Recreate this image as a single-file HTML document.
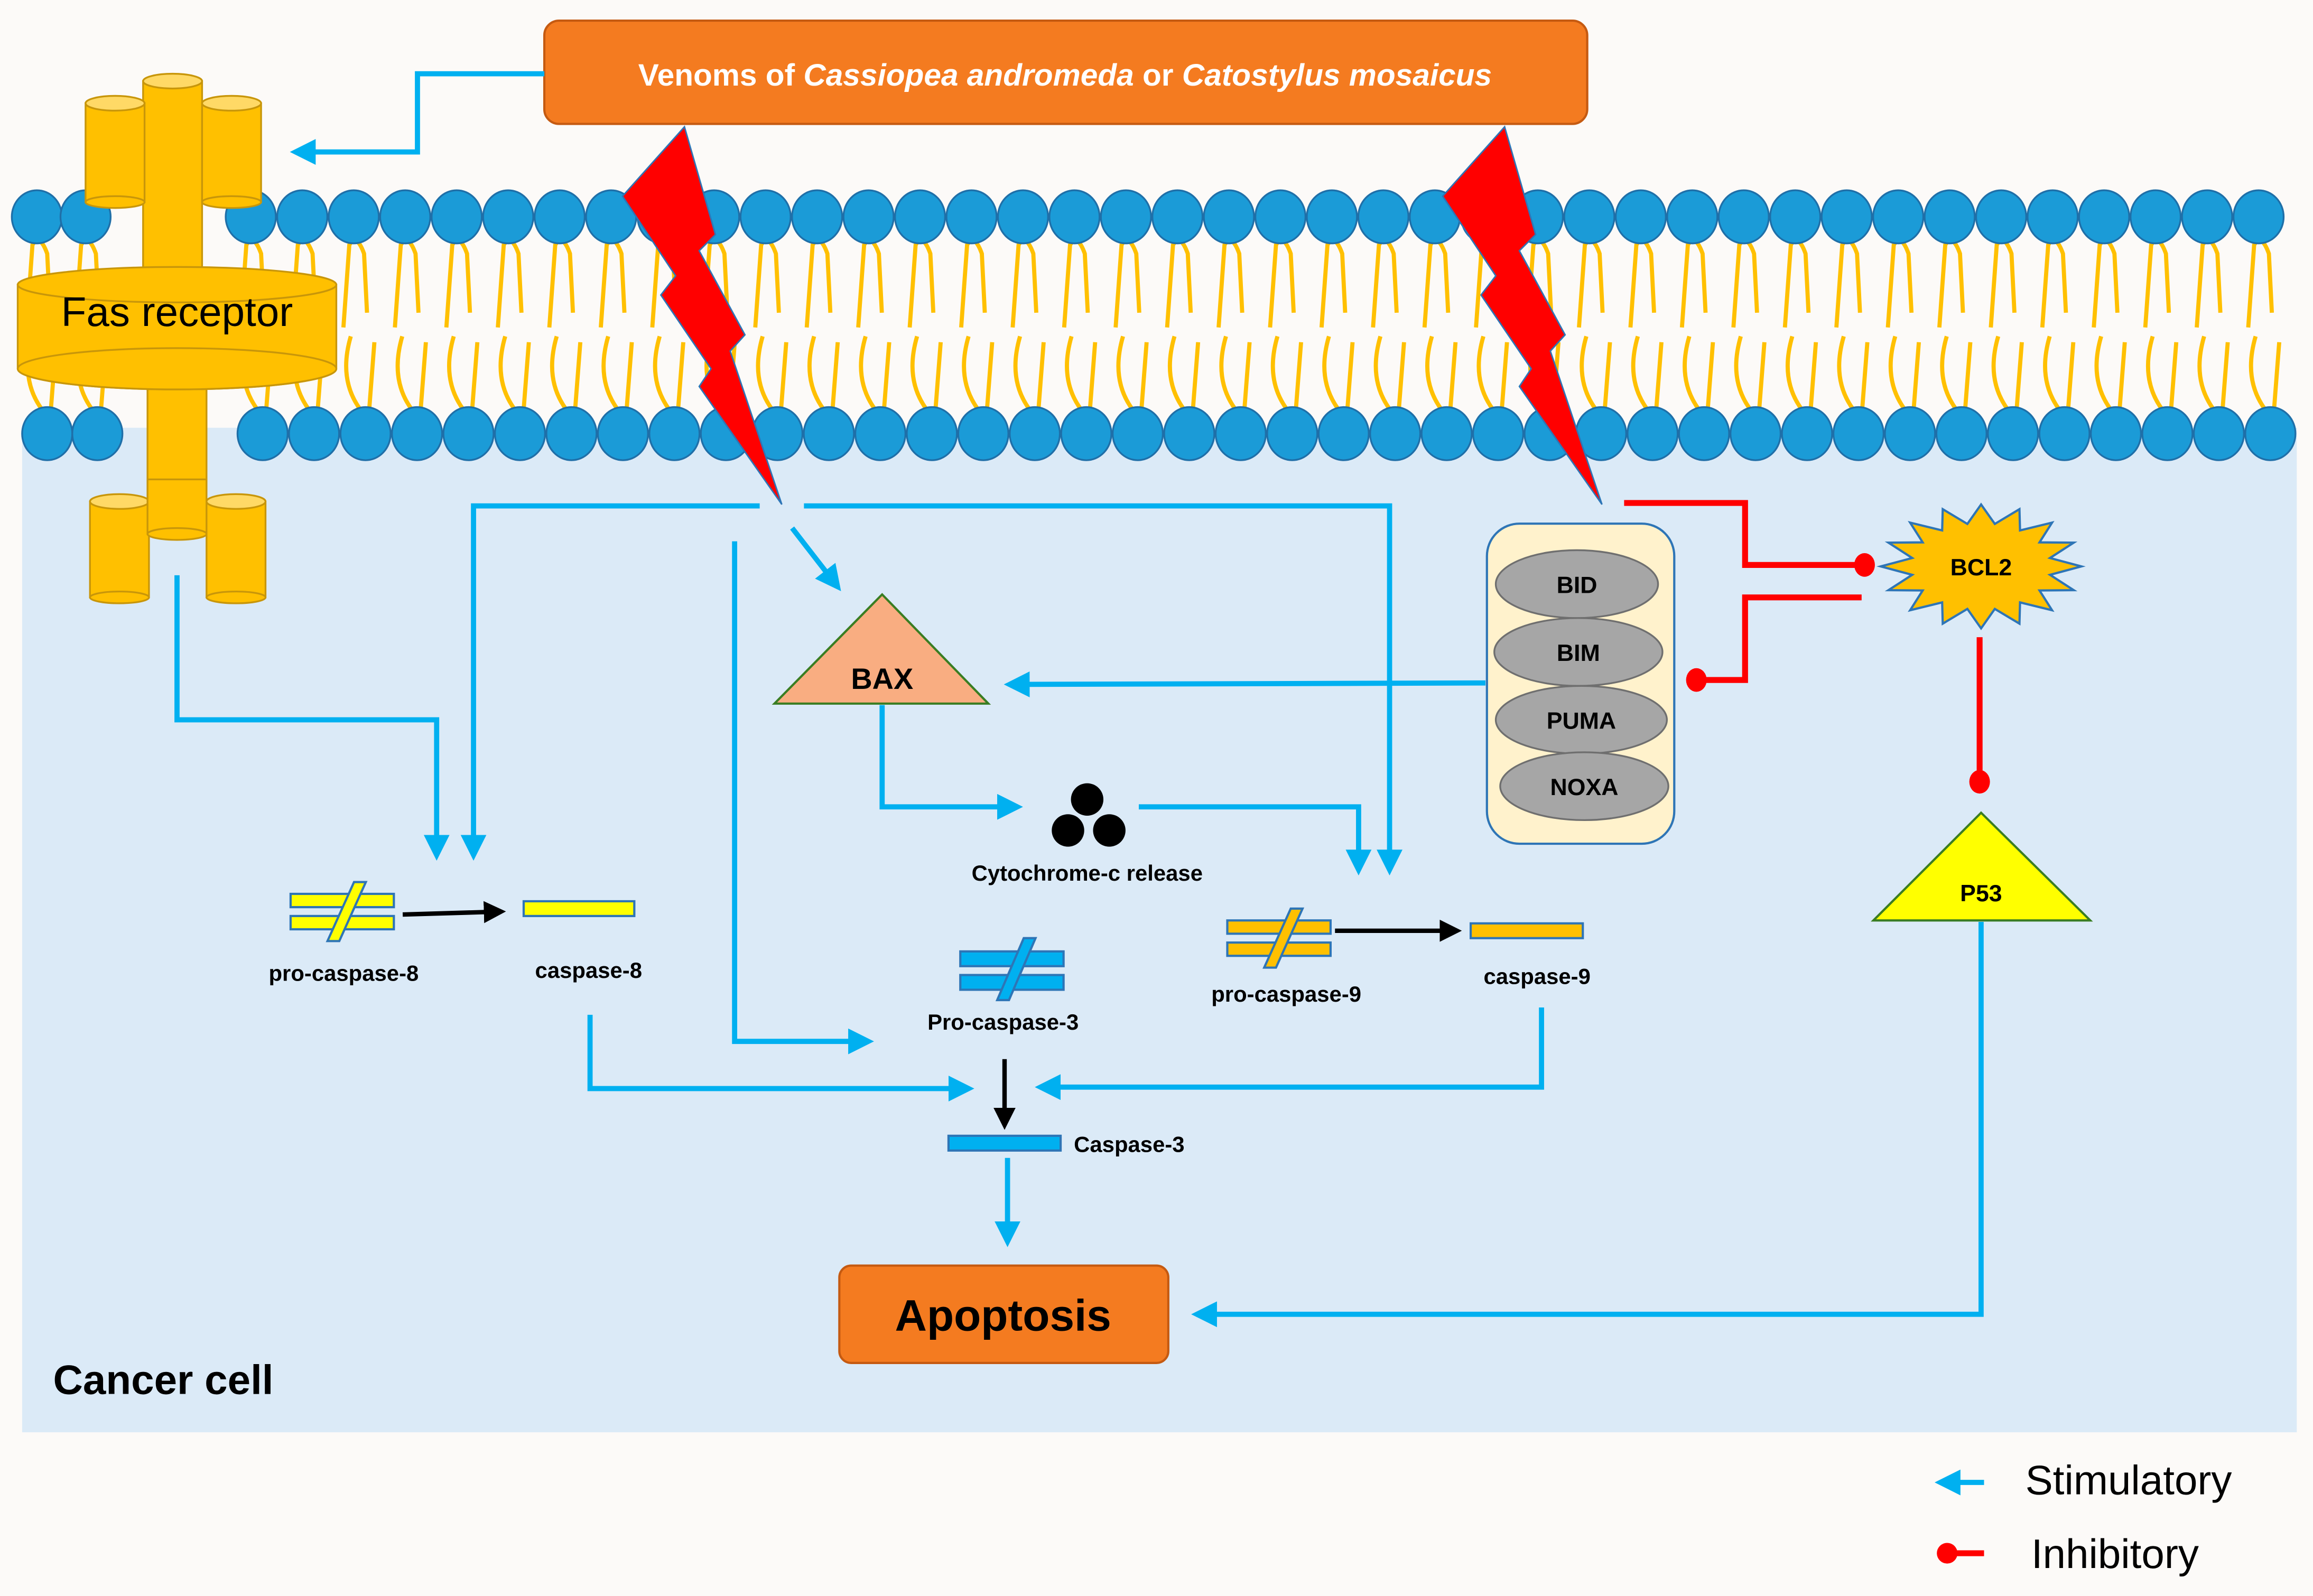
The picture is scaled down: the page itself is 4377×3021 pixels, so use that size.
<!DOCTYPE html>
<html><head><meta charset="utf-8"><style>html,body{margin:0;padding:0;background:#fcfaf8}svg{display:block}text{font-family:"Liberation Sans",sans-serif}</style></head>
<body>
<svg id="s" xmlns="http://www.w3.org/2000/svg" width="4377" height="3021" viewBox="0 0 1568 1082" preserveAspectRatio="none">
<defs>
<marker id="ab" markerWidth="5" markerHeight="5" refX="4" refY="2.5" orient="auto" markerUnits="strokeWidth"><path d="M0,0 L5,2.5 L0,5 z" fill="#00b0f0"/></marker>
<marker id="ak" markerWidth="5" markerHeight="5" refX="4" refY="2.5" orient="auto" markerUnits="strokeWidth"><path d="M0,0 L5,2.5 L0,5 z" fill="#000"/></marker>
</defs>
<rect x="0" y="0" width="1568" height="1082" fill="#fcfaf8"/>
<rect x="15" y="290" width="1542" height="681" fill="#dbeaf7"/>
<g id="mem"></g>
<g fill="#ffc000" stroke="#c8960a" stroke-width="1.2">
<rect x="100" y="250" width="40" height="112"/>
<rect x="61" y="340" width="40" height="65"/><ellipse cx="81" cy="340" rx="20" ry="5" fill="#ffd966"/><ellipse cx="81" cy="405" rx="20" ry="4"/>
<rect x="140" y="340" width="40" height="65"/><ellipse cx="160" cy="340" rx="20" ry="5" fill="#ffd966"/><ellipse cx="160" cy="405" rx="20" ry="4"/>
<rect x="100" y="325" width="40" height="37"/><ellipse cx="120" cy="362" rx="20" ry="4"/>
<rect x="97" y="55" width="40" height="130"/><ellipse cx="117" cy="55" rx="20" ry="5" fill="#ffd966"/>
<rect x="58" y="70" width="40" height="67"/><ellipse cx="78" cy="70" rx="20" ry="5" fill="#ffd966"/><ellipse cx="78" cy="137" rx="20" ry="4"/>
<rect x="137" y="70" width="40" height="67"/><ellipse cx="157" cy="70" rx="20" ry="5" fill="#ffd966"/><ellipse cx="157" cy="137" rx="20" ry="4"/>
<path d="M12,193 L12,250 A108,14 0 0 0 228,250 L228,193 z"/>
<ellipse cx="120" cy="193" rx="108" ry="12"/>
<ellipse cx="120" cy="250" rx="108" ry="14"/>
</g>
<text x="120" y="221" font-size="28" text-anchor="middle" fill="#000">Fas receptor</text>
<rect x="369" y="14" width="707" height="70" rx="10" fill="#f47b20" stroke="#c55a11" stroke-width="1.5"/>
<text x="722" y="58" font-size="21" font-weight="bold" fill="#fff" text-anchor="middle">Venoms of <tspan font-style="italic">Cassiopea andromeda</tspan> or <tspan font-style="italic">Catostylus mosaicus</tspan></text>
<g fill="#ff0000" stroke="#2e75b6" stroke-width="1">
<polygon points="464,86 422,133 458,187 448,200 482,250 474,262 530,342 495,238 505,227 474,170 485,159"/>
<polygon points="1020,86 978,133 1014,187 1004,200 1038,250 1030,262 1086,342 1051,238 1061,227 1030,170 1041,159"/>
</g>
<g fill="none" stroke="#00b0f0" stroke-width="3.5" marker-end="url(#ab)">
<polyline points="369,50 283,50 283,103 200,103"/>
<polyline points="120,390 120,488 296,488 296,580"/>
<polyline points="515,343 321,343 321,580"/>
<polyline points="545,343 942,343 942,590"/>
<polyline points="537,358 568,398"/>
<polyline points="498,367 498,706 589,706"/>
<polyline points="1007,463 684,464"/>
<polyline points="598,478 598,547 690,547"/>
<polyline points="772,547 921,547 921,590"/>
<polyline points="400,688 400,738 657,738"/>
<polyline points="1045,683 1045,737 705,737"/>
<polyline points="683,785 683,842"/>
<polyline points="1343,625 1343,891 811,891"/>
<polyline points="1345,1005 1315,1005"/>
</g>
<g fill="none" stroke="#000" stroke-width="3" marker-end="url(#ak)">
<polyline points="273,620 340,618"/>
<polyline points="905,631 988,631"/>
<polyline points="681,718 681,763"/>
</g>
<g fill="none" stroke="#ff0000" stroke-width="4">
<polyline points="1101,341 1183,341 1183,383 1262,383"/>
<polyline points="1262,405 1183,405 1183,461 1152,461"/>
<polyline points="1342,432 1342,528"/>
<polyline points="1345,1053 1322,1053"/>
</g>
<g fill="#ff0000"><ellipse cx="1264" cy="383" rx="7" ry="8"/><ellipse cx="1150" cy="461" rx="7" ry="8"/><ellipse cx="1342" cy="530" rx="7" ry="8"/><circle cx="1320" cy="1053" r="7"/></g>
<polygon points="525,477 598,403 670,477" fill="#f9ad81" stroke="#3a7d22" stroke-width="1.5"/>
<text x="598" y="467" font-size="20" font-weight="bold" text-anchor="middle">BAX</text>
<g fill="#000"><circle cx="737" cy="542" r="11"/><circle cx="724" cy="563" r="11"/><circle cx="752" cy="563" r="11"/></g>
<text x="737" y="597" font-size="15" font-weight="bold" text-anchor="middle">Cytochrome-c release</text>
<rect x="1008" y="355" width="127" height="217" rx="22" fill="#fff2cc" stroke="#2e75b6" stroke-width="1.5"/>
<g fill="#a6a6a6" stroke="#6f6f6f" stroke-width="1.2">
<ellipse cx="1069" cy="396" rx="55" ry="23"/><ellipse cx="1070" cy="442" rx="57" ry="23"/><ellipse cx="1072" cy="488" rx="58" ry="23"/><ellipse cx="1074" cy="533" rx="57" ry="23"/>
</g>
<g font-size="16" font-weight="bold" text-anchor="middle">
<text x="1069" y="402">BID</text><text x="1070" y="448">BIM</text><text x="1072" y="494">PUMA</text><text x="1074" y="539">NOXA</text>
</g>
<polygon id="star" fill="#ffc000" stroke="#2e75b6" stroke-width="1.5"/>
<text x="1343" y="390" font-size="16" font-weight="bold" text-anchor="middle">BCL2</text>
<polygon points="1270,624 1343,551 1417,624" fill="#ffff00" stroke="#3a7d22" stroke-width="1.5"/>
<text x="1343" y="611" font-size="16" font-weight="bold" text-anchor="middle">P53</text>
<g stroke="#2e75b6" stroke-width="1.5">
<rect x="197" y="606" width="70" height="9" fill="#ffff00"/><rect x="197" y="621" width="70" height="9" fill="#ffff00"/>
<polygon points="240,598 248,598 230,638 222,638" fill="#ffff00"/>
<rect x="355" y="611" width="75" height="10" fill="#ffff00"/>
<rect x="651" y="645" width="70" height="10" fill="#00b0f0"/><rect x="651" y="661" width="70" height="10" fill="#00b0f0"/>
<polygon points="694,636 702,636 684,678 676,678" fill="#00b0f0"/>
<rect x="643" y="770" width="76" height="10" fill="#00b0f0"/>
<rect x="832" y="624" width="70" height="9" fill="#ffc000"/><rect x="832" y="639" width="70" height="9" fill="#ffc000"/>
<polygon points="875,616 883,616 865,656 857,656" fill="#ffc000"/>
<rect x="997" y="626" width="76" height="10" fill="#ffc000"/>
</g>
<g font-size="15" font-weight="bold">
<text x="233" y="665" text-anchor="middle">pro-caspase-8</text>
<text x="399" y="663" text-anchor="middle">caspase-8</text>
<text x="680" y="698" text-anchor="middle">Pro-caspase-3</text>
<text x="872" y="679" text-anchor="middle">pro-caspase-9</text>
<text x="1042" y="667" text-anchor="middle">caspase-9</text>
<text x="728" y="781">Caspase-3</text>
</g>
<rect x="569" y="858" width="223" height="66" rx="8" fill="#f47b20" stroke="#c55a11" stroke-width="1.5"/>
<text x="680" y="902" font-size="30" font-weight="bold" text-anchor="middle">Apoptosis</text>
<text x="36" y="945" font-size="28" font-weight="bold">Cancer cell</text>
<text x="1373" y="1013" font-size="28">Stimulatory</text>
<text x="1377" y="1063" font-size="28">Inhibitory</text>
</svg>
<script>
(function(){
var NS="http://www.w3.org/2000/svg",m=document.getElementById("mem");
function el(t,a){var e=document.createElementNS(NS,t);for(var k in a)e.setAttribute(k,a[k]);m.appendChild(e);return e;}
var tp=[25,58],bt=[32,66],x;
for(x=170;x<=1535;x+=34.9)tp.push(x);
for(x=178;x<=1542;x+=34.9)bt.push(x);
tp.forEach(function(x){el("path",{d:"M"+(x-7)+" 222 L"+(x-3)+" 166 Q"+(x+2)+" 158 "+(x+7)+" 172 L"+(x+9)+" 212",fill:"none",stroke:"#ffc000","stroke-width":2.8});});
bt.forEach(function(x){el("path",{d:"M"+(x-10)+" 228 Q"+(x-20)+" 262 "+(x+2)+" 284 L"+(x+6)+" 232",fill:"none",stroke:"#ffc000","stroke-width":2.8});});
tp.forEach(function(x){el("ellipse",{cx:x,cy:147,rx:17,ry:18,fill:"#1b9bd7",stroke:"#1f6fa8","stroke-width":1.2});});
bt.forEach(function(x){el("ellipse",{cx:x,cy:294,rx:17,ry:18,fill:"#1b9bd7",stroke:"#1f6fa8","stroke-width":1.2});});
var p=[],n=16;for(var i=0;i<2*n;i++){var a=Math.PI*i/n,r=i%2?0.7:1;p.push((1343+68*r*Math.cos(a)).toFixed(1)+","+(384+42*r*Math.sin(a)).toFixed(1));}
document.getElementById("star").setAttribute("points",p.join(" "));
})();
</script>
</body></html>
